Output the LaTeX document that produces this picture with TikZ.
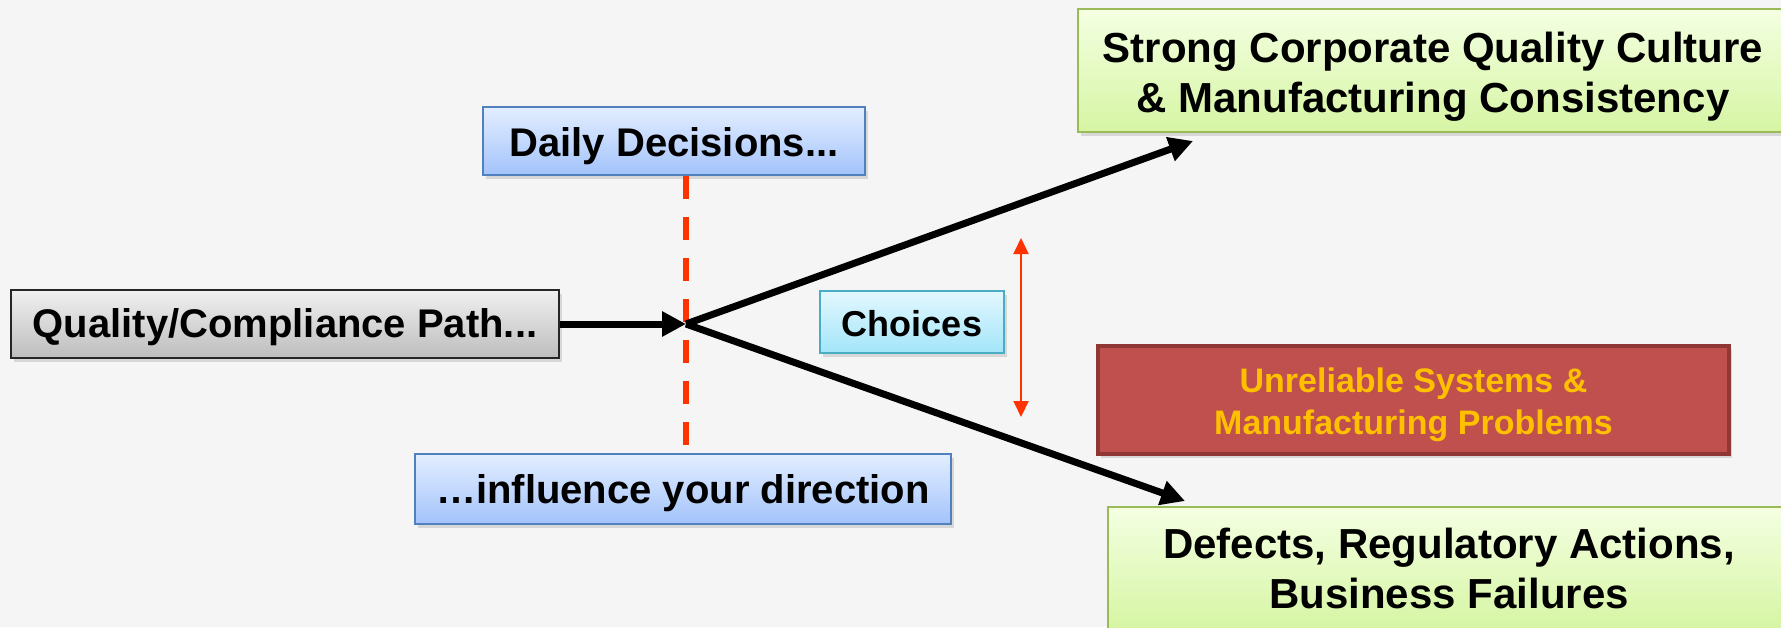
\documentclass[tikz,border=0pt]{standalone}
\usepackage{fontspec}
\setmainfont{Liberation Sans}
\usetikzlibrary{arrows.meta,shadows}
\definecolor{bgc}{HTML}{F5F5F5}
\definecolor{graytop}{HTML}{F0F0F0}
\definecolor{graybot}{HTML}{BDBDBD}
\definecolor{bluetop}{HTML}{E3EEFF}
\definecolor{bluebot}{HTML}{A3C3FB}
\definecolor{blueline}{HTML}{4F81BD}
\definecolor{cyantop}{HTML}{E3F8FE}
\definecolor{cyanbot}{HTML}{A3E5FA}
\definecolor{cyanline}{HTML}{4BACC6}
\definecolor{greentop}{HTML}{F4FFE2}
\definecolor{greenbot}{HTML}{D6F5A3}
\definecolor{greenline}{HTML}{9BBB59}
\definecolor{redfill}{HTML}{C0504D}
\definecolor{redline}{HTML}{8F3735}
\definecolor{goldtext}{HTML}{FFC000}
\definecolor{dashred}{HTML}{FF3300}
\newcommand{\liftby}[1]{\rule{0pt}{#1}}
\begin{document}
\begin{tikzpicture}[x=0.5pt,y=-0.5pt,
  box/.style={rectangle, inner sep=0pt, align=center,
    font=\bfseries\fontsize{20}{24}\selectfont,
    drop shadow={shadow xshift=1.5pt,shadow yshift=-2pt,opacity=0.25}},
  lift/.style={execute at begin node={\rule{0pt}{#1}}},
  graybox/.style={box, draw=black!85, line width=1pt, top color=graytop, bottom color=graybot},
  bluebox/.style={box, draw=blueline, line width=0.9pt, top color=bluetop, bottom color=bluebot},
  cyanbox/.style={box, draw=cyanline, line width=0.9pt, top color=cyantop, bottom color=cyanbot,
    font=\bfseries\fontsize{18}{22}\selectfont},
  greenbox/.style={box, draw=greenline, line width=1pt, top color=greentop, bottom color=greenbot,
    font=\bfseries\fontsize{21}{25}\selectfont},
  redbox/.style={box, draw=redline, line width=2pt, fill=redfill, text=goldtext,
    font=\bfseries\fontsize{17}{21}\selectfont},
  bigarrow/.style={line width=3.5pt, -{Triangle[length=12pt,width=12pt]}},
  dashline/.style={draw=dashred, line width=3pt, dash pattern=on 11.5pt off 9pt},
  choicearrow/.style={draw=dashred, line width=1pt, {Triangle[length=8pt,width=7.5pt]}-{Triangle[length=8pt,width=7.5pt]}}
]
\fill[bgc] (0,0) rectangle (1781,627);
\useasboundingbox (0,0) rectangle (1781,627);

\node[graybox, lift=18pt, minimum width=274pt, minimum height=34pt] (qc) at (285,324) {Quality/Compliance Path...};
\node[bluebox, lift=20pt, minimum width=191pt, minimum height=34pt] (daily) at (674,141) {Daily Decisions...};
\node[bluebox, lift=19pt, minimum width=268pt, minimum height=35pt] (infl) at (683,489) {…influence your direction};
\node[cyanbox, lift=15pt, minimum width=92pt, minimum height=31pt] (choices) at (912,322) {Choices};
\node[greenbox, minimum width=355pt, minimum height=61.5pt] (strong) at (1433,70.5) {\liftby{21.5pt}Strong Corporate Quality Culture\\\& Manufacturing Consistency};
\node[redbox, minimum width=315.5pt, minimum height=54pt] (unrel) at (1413.5,400) {\liftby{17.5pt}Unreliable Systems \&\\Manufacturing Problems};
\node[greenbox, minimum width=341pt, minimum height=61.5pt] (defects) at (1449,568.5) {Defects, Regulatory Actions,\\Business Failures};

\coordinate (j) at (686,324);
\coordinate (up) at (1193,141);
\coordinate (down) at (1185,501);
\coordinate (ra1) at (1021,238);
\coordinate (ra2) at (1021,417);

\draw[dashline] (daily.south -| j) -- (infl.north -| j);
\draw[bigarrow] (qc.east) -- (j);
\draw[bigarrow] (j) -- (up);
\draw[bigarrow] (j) -- (down);
\draw[choicearrow] (ra1) -- (ra2);
\end{tikzpicture}
\end{document}
